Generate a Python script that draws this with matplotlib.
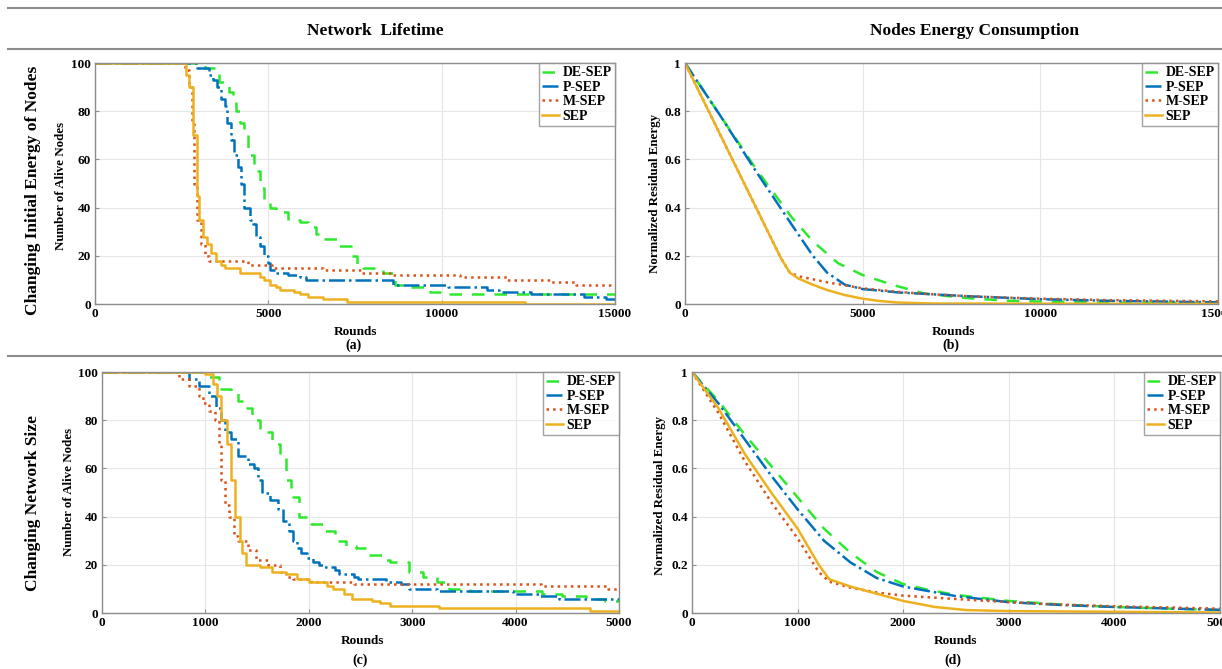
import numpy as np
import matplotlib
matplotlib.use("Agg")
from matplotlib import pyplot as plt
from matplotlib.lines import Line2D

plt.rcParams['font.family'] = ['Liberation Serif', 'DejaVu Serif']
plt.rcParams['font.weight'] = 'bold'

names = ['DE-SEP', 'P-SEP', 'M-SEP', 'SEP']
colors = ['#2ee82e', '#0072BD', '#D95319', '#EDB120']
styles = [(0, (5, 4)), '-.', ':', '-']

# (a) alive nodes, changing initial energy, rounds 0..15000
a_de_x = [0, 3112, 3169, 3568, 3853, 3967, 4081, 4195, 4309, 4423, 4594, 4765, 4879, 5050, 5221, 5563, 5905, 6133, 6361, 6589, 7045, 7387, 7558, 7729, 8071, 8299, 8641, 9097, 9496, 9667, 10123, 15000]
a_de_y = [100, 100, 98, 92, 88, 85, 80, 75, 70, 62, 55, 48, 43, 40, 38, 35, 34, 32, 29, 27, 24, 20, 16, 15, 14, 13, 8, 7, 6, 5, 4, 4]
a_p_x = [0, 2827, 2941, 3283, 3397, 3511, 3625, 3739, 3796, 3910, 4024, 4138, 4218, 4309, 4480, 4571, 4651, 4765, 4879, 4993, 5050, 5221, 5563, 5905, 6076, 8584, 10180, 11320, 11662, 12574, 14113, 14740, 15000]
a_p_y = [100, 100, 98, 95, 93, 90, 85, 82, 75, 68, 62, 57, 50, 40, 35, 33, 28, 24, 20, 17, 14, 13, 12, 11, 10, 8, 7, 6, 5, 4, 3, 2, 2]
a_m_x = [0, 2485, 2600, 2713, 2804, 2861, 2941, 3055, 3169, 3283, 4423, 5107, 6589, 7672, 8527, 10522, 11890, 13144, 13885, 15000]
a_m_y = [100, 100, 97, 90, 75, 50, 35, 25, 20, 18, 16, 15, 14, 13, 12, 11, 10, 9, 8, 8]
a_s_x = [0, 2508, 2620, 2713, 2827, 2941, 2998, 3112, 3226, 3340, 3488, 3625, 3739, 4195, 4765, 4879, 5050, 5221, 5335, 5734, 5905, 6133, 6589, 7273, 12403, 15000]
a_s_y = [100, 100, 95, 90, 70, 45, 35, 28, 25, 21, 18, 16, 15, 13, 11, 10, 8, 7, 6, 5, 4, 3, 2, 1, 0, 0]

# (b) normalized residual energy, rounds 0..15000
b_de_x = [0, 1000, 2000, 2500, 3000, 3600, 4300, 5000, 5900, 6750, 7900, 9000, 10000, 12000, 15000]
b_de_y = [1, 0.78, 0.56, 0.46, 0.36, 0.26, 0.17, 0.12, 0.077, 0.043, 0.025, 0.014, 0.01, 0.006, 0.004]
b_p_x = [0, 1000, 2000, 2500, 3000, 3600, 4000, 4500, 5000, 6000, 7000, 8000, 10000, 12000, 15000]
b_p_y = [1, 0.78, 0.55, 0.44, 0.33, 0.2, 0.13, 0.08, 0.062, 0.048, 0.04, 0.032, 0.02, 0.013, 0.007]
b_m_x = [0, 1000, 2000, 2700, 2950, 3200, 4000, 5000, 6000, 7000, 8000, 10000, 12000, 15000]
b_m_y = [1, 0.7, 0.4, 0.19, 0.13, 0.115, 0.09, 0.065, 0.05, 0.04, 0.032, 0.022, 0.016, 0.011]
b_s_x = [0, 1000, 2000, 2700, 2950, 3200, 3600, 4000, 4500, 5000, 5500, 6000, 7000, 15000]
b_s_y = [1, 0.7, 0.4, 0.19, 0.13, 0.105, 0.08, 0.058, 0.037, 0.022, 0.012, 0.006, 0.002, 0.0]

# (c) alive nodes, changing network size, rounds 0..5000
c_de_x = [0, 920, 1034, 1129, 1243, 1319, 1395, 1452, 1528, 1642, 1718, 1775, 1832, 1908, 2022, 2136, 2250, 2364, 2459, 2573, 2706, 2782, 2972, 3105, 3238, 3352, 3561, 4260, 4450, 4678, 4868, 5000]
c_de_y = [100, 100, 98, 93, 92, 88, 85, 80, 75, 70, 65, 55, 48, 40, 37, 34, 30, 28, 27, 24, 22, 21, 17, 15, 13, 10, 9, 8, 7, 6, 5, 5]
c_p_x = [0, 730, 844, 939, 1034, 1102, 1148, 1186, 1243, 1319, 1414, 1471, 1509, 1547, 1623, 1699, 1748, 1813, 1851, 1889, 1927, 1984, 2041, 2098, 2136, 2250, 2288, 2440, 2478, 2744, 2896, 2972, 3238, 3979, 4226, 4416, 5000]
c_p_y = [100, 100, 97, 94, 90, 85, 80, 75, 72, 65, 62, 60, 55, 50, 47, 43, 38, 34, 30, 27, 25, 23, 21, 20, 19, 18, 16, 15, 14, 13, 12, 10, 9, 8, 7, 6, 6]
c_m_x = [0, 692, 749, 844, 939, 977, 1034, 1091, 1129, 1155, 1193, 1224, 1281, 1319, 1414, 1490, 1604, 1718, 1775, 1851, 2022, 2440, 4245, 4890, 5000]
c_m_y = [100, 100, 97, 94, 90, 87, 84, 80, 70, 55, 45, 40, 32, 30, 26, 22, 20, 17, 15, 14, 13, 12, 11, 10, 10]
c_s_x = [0, 900, 996, 1072, 1110, 1155, 1205, 1243, 1288, 1338, 1357, 1395, 1528, 1642, 1775, 1889, 2003, 2174, 2231, 2345, 2421, 2611, 2687, 2782, 3257, 4720, 5000]
c_s_y = [100, 100, 99, 95, 90, 80, 70, 55, 40, 30, 25, 20, 19, 17, 16, 14, 13, 11, 10, 8, 6, 5, 4, 3, 2, 1, 1]

# (d) normalized residual energy, rounds 0..5000
d_de_x = [0, 250, 500, 750, 1000, 1250, 1500, 1750, 2000, 2250, 2500, 3000, 3500, 4000, 5000]
d_de_y = [1, 0.88, 0.74, 0.61, 0.48, 0.35, 0.25, 0.17, 0.12, 0.095, 0.075, 0.05, 0.035, 0.025, 0.012]
d_p_x = [0, 250, 500, 750, 1000, 1250, 1500, 1750, 2000, 2500, 3000, 3500, 4000, 5000]
d_p_y = [1, 0.87, 0.72, 0.57, 0.43, 0.3, 0.21, 0.145, 0.11, 0.07, 0.045, 0.033, 0.025, 0.013]
d_m_x = [0, 250, 500, 750, 1000, 1200, 1300, 1500, 1750, 2000, 2500, 3000, 3500, 4000, 5000]
d_m_y = [1, 0.83, 0.63, 0.46, 0.31, 0.17, 0.13, 0.105, 0.085, 0.072, 0.058, 0.045, 0.035, 0.028, 0.018]
d_s_x = [0, 250, 500, 750, 1000, 1200, 1300, 1500, 1750, 2000, 2300, 2600, 3000, 4000, 5000]
d_s_y = [1, 0.85, 0.66, 0.5, 0.35, 0.2, 0.14, 0.11, 0.08, 0.05, 0.025, 0.012, 0.008, 0.005, 0.002]

W, H = 1222, 669
fig = plt.figure(figsize=(W / 100, H / 100), dpi=100)


def px(x, y):
    return x / W, 1 - y / H


def make_ax(l, t, r, b):
    ax = fig.add_axes([l / W, 1 - b / H, (r - l) / W, (b - t) / H])
    ax.grid(True, color='#e6e6e6', lw=0.8)
    ax.set_axisbelow(True)
    for s in ax.spines.values():
        s.set_color('#8c8c8c')
        s.set_linewidth(1.0)
    ax.tick_params(direction='in', length=3, color='#8c8c8c', labelsize=9.5, pad=3)
    return ax


def draw(ax, xs, ys, step):
    for x, y, c, ls, n in zip(xs, ys, colors, styles, names):
        ax.plot(x, y, color=c, ls=ls, lw=1.8, label=n,
                drawstyle='steps-post' if step else 'default')
    leg = ax.legend(loc='upper right', borderaxespad=0, fancybox=False,
                    handlelength=1.2, handletextpad=0.25, borderpad=0.25,
                    labelspacing=0.1, prop={'size': 10, 'weight': 'bold'})
    leg.get_frame().set_edgecolor('#8c8c8c')
    leg.get_frame().set_linewidth(1.0)


ax_a = make_ax(95, 63, 615, 304)
draw(ax_a, [a_de_x, a_p_x, a_m_x, a_s_x], [a_de_y, a_p_y, a_m_y, a_s_y], True)
ax_a.set_xlim(0, 15000)
ax_a.set_ylim(0, 100)
ax_a.set_xticks([0, 5000, 10000, 15000])

ax_b = make_ax(685, 63, 1218, 304)
draw(ax_b, [b_de_x, b_p_x, b_m_x, b_s_x], [b_de_y, b_p_y, b_m_y, b_s_y], False)
ax_b.set_xlim(0, 15000)
ax_b.set_ylim(0, 1)
ax_b.set_xticks([0, 5000, 10000, 15000])
ax_b.set_yticks([0, 0.2, 0.4, 0.6, 0.8, 1])
ax_b.set_yticklabels(['0', '0.2', '0.4', '0.6', '0.8', '1'])

ax_c = make_ax(102, 372, 619, 613)
draw(ax_c, [c_de_x, c_p_x, c_m_x, c_s_x], [c_de_y, c_p_y, c_m_y, c_s_y], True)
ax_c.set_xlim(0, 5000)
ax_c.set_ylim(0, 100)

ax_d = make_ax(692, 372, 1220, 613)
draw(ax_d, [d_de_x, d_p_x, d_m_x, d_s_x], [d_de_y, d_p_y, d_m_y, d_s_y], False)
ax_d.set_xlim(0, 5000)
ax_d.set_ylim(0, 1)
ax_d.set_yticks([0, 0.2, 0.4, 0.6, 0.8, 1])
ax_d.set_yticklabels(['0', '0.2', '0.4', '0.6', '0.8', '1'])

for ax in [ax_a, ax_b, ax_c, ax_d]:
    for lab in ax.get_xticklabels() + ax.get_yticklabels():
        lab.set_fontweight('bold')

# separator lines
for y in [8, 49, 356]:
    fig.add_artist(Line2D([8 / W, 1], [1 - y / H] * 2, color='#8c8c8c', lw=1.5))

fig.text(*px(375, 31), 'Network  Lifetime', ha='center', va='center', fontsize=12.5, fontweight='bold')
fig.text(*px(975, 31), 'Nodes Energy Consumption', ha='center', va='center', fontsize=12.5, fontweight='bold')
fig.text(*px(33, 190), 'Changing Initial Energy of Nodes', rotation=90, ha='center', va='center', fontsize=12.5, fontweight='bold')
fig.text(*px(33, 503), 'Changing Network Size', rotation=90, ha='center', va='center', fontsize=12.5, fontweight='bold')

fig.text(*px(61, 186), 'Number of Alive Nodes', rotation=90, ha='center', va='center', fontsize=9.3, fontweight='bold')
fig.text(*px(69, 492), 'Number of Alive Nodes', rotation=90, ha='center', va='center', fontsize=9.3, fontweight='bold')
fig.text(*px(655, 193), 'Normalized Residual Energy', rotation=90, ha='center', va='center', fontsize=9.3, fontweight='bold')
fig.text(*px(660, 495), 'Normalized Residual Energy', rotation=90, ha='center', va='center', fontsize=9.3, fontweight='bold')

for x, y1, y2, lab in [(355, 332, 345, '(a)'), (953, 332, 345, '(b)'),
                       (362, 641, 660, '(c)'), (955, 641, 660, '(d)')]:
    fig.text(*px(x, y1), 'Rounds', ha='center', va='center', fontsize=9.5, fontweight='bold')
    fig.text(*px(x - 2, y2), lab, ha='center', va='center', fontsize=10, fontweight='bold')

fig.savefig('out.png', dpi=100)
